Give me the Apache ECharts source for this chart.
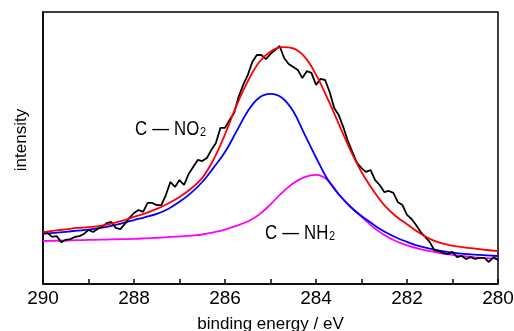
<!DOCTYPE html>
<html>
<head>
<meta charset="utf-8">
<script src="https://cdn.jsdelivr.net/npm/echarts@6/dist/echarts.min.js"></script>
<style>html,body{margin:0;padding:0;background:#fff}#c{width:514px;height:331px}</style>
</head>
<body>
<div id="c"></div>
<script>
// Binding energies (eV)
const fitEnergies = [290.00,289.75,289.50,289.25,289.00,288.75,288.50,288.25,288.00,287.75,287.50,287.25,287.00,286.75,286.50,286.25,286.00,285.75,285.50,285.25,285.00,284.75,284.50,284.25,284.00,283.75,283.50,283.25,283.00,282.75,282.50,282.25,282.00,281.75,281.50,281.25,281.00,280.75,280.50,280.25,280.00];
// Envelope (red)
const envelope = [19.1,19.6,20.1,20.6,20.9,21.4,22.2,23.3,24.7,26.0,27.6,29.6,32.0,35.0,39.0,45.8,55.0,65.5,74.5,81.5,85.5,87.1,86.6,83.5,77.0,68.3,58.9,49.4,41.2,34.6,29.0,25.0,22.0,19.0,16.6,15.0,14.1,13.5,13.0,12.5,12.1];
// C-NO2 component (blue)
const cNO2 = [18.4,18.8,19.2,19.6,20.0,20.6,21.4,22.4,23.5,24.6,25.8,27.6,30.2,33.4,37.5,42.8,48.5,56.0,63.5,68.5,69.9,68.5,63.5,55.0,46.5,38.6,33.0,28.5,25.0,22.0,19.3,17.2,15.5,14.0,13.0,12.2,11.5,11.1,10.8,10.5,10.3];
// C-NH2 component (magenta)
const cNH2 = [15.8,15.9,16.0,16.1,16.2,16.3,16.4,16.5,16.6,16.8,17.0,17.2,17.5,17.8,18.2,19.0,20.0,21.4,23.0,25.5,29.3,33.5,37.0,39.3,40.1,38.3,33.0,28.5,24.7,21.0,18.0,15.8,14.2,13.0,12.1,11.3,10.7,10.2,9.8,9.5,9.2];
// Measured spectrum (black), 290.0 -> 280.0 in 0.1 eV steps
const rawStart = 290.0, rawStep = 0.1;
const rawIntensity = [19.1,18.8,17.3,17.6,15.4,16.2,16.5,17.3,17.6,18.4,19.9,19.1,20.2,21.0,22.4,22.8,20.6,20.2,22.1,24.3,26.1,27.2,26.5,29.8,29.8,29.0,29.0,32.7,37.5,35.7,38.2,36.4,40.4,43.0,45.6,45.2,46.3,49.3,51.8,57.4,57.4,60.3,62.9,68.8,73.2,76.8,81.6,84.2,84.2,82.7,84.6,86.0,87.5,83.1,80.9,79.8,78.7,75.7,78.3,77.6,73.2,75.4,75.0,70.6,64.7,62.1,57.7,52.6,48.5,44.5,42.6,41.2,41.9,38.2,36.4,33.8,34.2,33.5,30.1,29.0,25.4,23.9,21.7,19.1,17.3,15.4,12.5,12.1,11.4,11.0,11.8,9.9,10.3,9.2,9.9,9.2,9.6,9.6,8.1,9.9,8.8];
const xTicks = [290,288,286,284,282,280];

const FONT = '"Liberation Sans", Arial, sans-serif';
const pair = (xs, ys) => xs.map((x, i) => [x, ys[i]]);
const rawData = rawIntensity.map((v, i) => [+(rawStart - i * rawStep).toFixed(2), v]);

const labelRich = {
  a: {fontFamily: FONT, fontSize: 20, color: '#000', lineHeight: 22, verticalAlign: 'bottom'},
  d: {fontFamily: FONT, fontSize: 20, color: '#666', lineHeight: 22, padding: [0, 6, 0, 6], verticalAlign: 'bottom'},
  s: {fontFamily: FONT, fontSize: 13, color: '#000', lineHeight: 22, verticalAlign: 'bottom', padding: [5, 0, 0, 1]}
};

const chart = echarts.init(document.getElementById('c'), null, {renderer: 'canvas'});
chart.setOption({
  animation: false,
  backgroundColor: '#fff',
  grid: {left: 43, right: 16, top: 12, bottom: 47, containLabel: false, outerBoundsMode: 'none',
    show: true, borderColor: '#000', borderWidth: 1.5, backgroundColor: 'transparent'},
  xAxis: {
    type: 'value', min: 280, max: 290, interval: 1, inverse: true,
    name: 'binding energy / eV', nameLocation: 'middle', nameGap: 32,
    nameTextStyle: {fontFamily: FONT, fontSize: 17, color: '#000'},
    axisLine: {show: true, lineStyle: {color: '#000', width: 1.5}},
    axisTick: {show: true, inside: true, length: 5, lineStyle: {color: '#000', width: 1.5}},
    axisLabel: {margin: 5, fontFamily: FONT, fontSize: 19, color: '#000',
      formatter: v => xTicks.includes(v) ? String(v) : ''},
    splitLine: {show: false}
  },
  yAxis: {
    type: 'value', min: 0, max: 100,
    name: 'intensity', nameLocation: 'middle', nameGap: 13, nameRotate: 90,
    nameTextStyle: {fontFamily: FONT, fontSize: 17, color: '#000', padding: [0, 0, 0, 16]},
    axisLine: {show: true, lineStyle: {color: '#000', width: 1.5}},
    axisTick: {show: false}, axisLabel: {show: false}, splitLine: {show: false}
  },
  series: [
    {type: 'line', data: pair(fitEnergies, cNH2), smooth: 0.4, symbol: 'none', lineStyle: {color: '#ff00ff', width: 1.8}, z: 2},
    {type: 'line', data: pair(fitEnergies, cNO2), smooth: 0.4, symbol: 'none', lineStyle: {color: '#0000ff', width: 1.8}, z: 3},
    {type: 'line', data: rawData, symbol: 'none', lineStyle: {color: '#000', width: 1.8}, z: 4},
    {type: 'line', data: pair(fitEnergies, envelope), smooth: 0.4, symbol: 'none', lineStyle: {color: '#ff0000', width: 1.8}, z: 5}
  ],
  graphic: [
    {type: 'text', x: 135, y: 117, scaleX: 0.84, z: 10, style: {text: '{a|C}{d|—}{a|NO}{s|2}', fontFamily: FONT, rich: labelRich}},
    {type: 'text', x: 265, y: 221, scaleX: 0.84, z: 10, style: {text: '{a|C}{d|—}{a|NH}{s|2}', fontFamily: FONT, rich: labelRich}}
  ]
});
</script>
</body>
</html>
